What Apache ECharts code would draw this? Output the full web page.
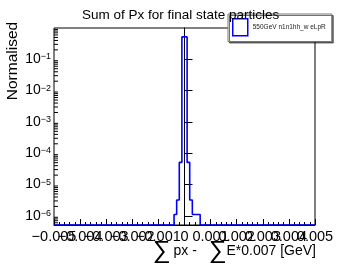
<!DOCTYPE html>
<html><head><meta charset="utf-8">
<script src="https://cdn.jsdelivr.net/npm/echarts@6/dist/echarts.min.js"></script>
<style>html,body{margin:0;padding:0;background:#fff}#c{width:338px;height:265px}</style>
</head><body><div id="c"></div>
<script>
const titleText = 'Sum of Px for final state particles';
const seriesName = '550GeV n1n1hh_w eLpR';
const yTitle = 'Normalised';
const xTitleParts = ['px -', 'E*0.007 [GeV]'];
const xMin = -0.005, xMax = 0.005, xInterval = 0.001;
const yMin = 5.1e-7, yMax = 1;
const xTickValues = [-0.005, -0.004, -0.003, -0.002, -0.001, 0, 0.001, 0.002, 0.003, 0.004, 0.005];
const xTickLabels = ['\u22120.005', '\u22120.004', '\u22120.003', '\u22120.002', '\u22120.001', '0',
  '0.001', '0.002', '0.003', '0.004', '0.005'];
// non-empty bins: lower edges (bin width 0.0001) and contents
const binWidth = 0.0001;
const binLow = [-0.0004, -0.0003, -0.0002, -0.0001, 0, 0.0001, 0.0002, 0.0003, 0.0004, 0.0005];
const binVal = [1.1e-6, 3.2e-6, 5.1e-5, 0.52, 0.52, 5.1e-5, 3.2e-6, 1.1e-6, 1.1e-6, 1.1e-6];

const FONT = "'Liberation Sans', Arial, Helvetica, sans-serif";

// histogram outline (empty bins drawn on the frame floor like ROOT)
const pts = [[xMin, yMin]];
binLow.forEach((x, i) => pts.push([x, binVal[i]]));
pts.push([binLow[binLow.length - 1] + binWidth, yMin]);
pts.push([xMax, yMin]);

// log minor ticks on y axis
const minorVals = [];
for (let n = -7; n < 0; n++) for (let k = 2; k <= 9; k++) {
  const v = k * Math.pow(10, n);
  if (v > yMin && v < yMax) minorVals.push([xMin, v]);
}

const chart = echarts.init(document.getElementById('c'), null, {renderer: 'canvas'});
chart.setOption({
  animation: false,
  backgroundColor: '#fff',
  title: {
    text: titleText, left: 77, top: 3,
    textStyle: {fontSize: 13.5, fontWeight: 'normal', fontFamily: FONT, color: '#000'}
  },
  legend: {
    left: 228, top: 14,
    padding: [4, 6, 5, 4],
    backgroundColor: '#fff', borderColor: '#777', borderWidth: 1,
    shadowColor: 'rgba(0,0,0,0.55)', shadowOffsetX: 1.5, shadowOffsetY: 1.5, shadowBlur: 0,
    itemWidth: 15, itemHeight: 17,
    textStyle: {fontSize: 6.5, fontFamily: FONT, color: '#222'},
    data: [{name: seriesName, icon: 'rect',
      itemStyle: {color: '#fff', borderColor: '#0000ff', borderWidth: 1.5}}]
  },
  grid: {left: 54, right: 23, top: 28, bottom: 40, show: true, borderColor: '#000', borderWidth: 1,
    containLabel: false, outerBoundsMode: 'none'},
  xAxis: {
    type: 'value', min: xMin, max: xMax, interval: xInterval,
    axisLine: {lineStyle: {color: '#000', width: 1}},
    axisTick: {inside: true, length: 6, lineStyle: {color: '#000'}},
    minorTick: {show: true, splitNumber: 5, length: 3, lineStyle: {color: '#000'}},
    splitLine: {show: false},
    axisLabel: {show: false}
  },
  yAxis: {
    type: 'log', logBase: 10, min: yMin, max: yMax,
    axisLine: {show: true, lineStyle: {color: '#000', width: 1}},
    axisTick: {inside: true, length: 8, lineStyle: {color: '#000'}},
    splitLine: {show: false},
    axisLabel: {
      margin: 3, showMinLabel: false, showMaxLabel: false, color: '#000', fontFamily: FONT,
      formatter: v => {
        const e = Math.round(Math.log10(v));
        return '{b|10}{s|' + (e < 0 ? '\u2212' : '') + Math.abs(e) + '}';
      },
      rich: {
        b: {fontSize: 14, lineHeight: 14, fontFamily: FONT, color: '#000', verticalAlign: 'bottom'},
        s: {fontSize: 9, lineHeight: 9, fontFamily: FONT, color: '#000', verticalAlign: 'top'}
      }
    }
  },
  graphic: [
    {type: 'text', x: 13, y: 61, rotation: Math.PI / 2,
      style: {text: yTitle, fontSize: 15.5, fontFamily: FONT, fill: '#000', align: 'center', verticalAlign: 'middle'}},
    {type: 'text', right: 22, top: 239,
      style: {
        text: '{g|\u2211}{p|' + xTitleParts[0] + '}  {g|\u2211}' + xTitleParts[1],
        fontSize: 14, fontFamily: FONT, fill: '#000',
        rich: {
          g: {fontSize: 25, fontFamily: FONT, fill: '#000'},
          p: {fontSize: 14, fontFamily: FONT, fill: '#000', padding: [0, 4, 0, 3]}
        }
      }}
  ],
  series: [
    {
      name: seriesName, type: 'line', step: 'end', data: pts,
      showSymbol: false, symbol: 'none',
      lineStyle: {color: '#0000ff', width: 1.6},
      itemStyle: {color: '#0000ff'}, z: 3
    },
    {
      name: 'minor', type: 'custom', data: minorVals, silent: true, z: 4,
      renderItem: (params, api) => {
        const p = api.coord([api.value(0), api.value(1)]);
        return {type: 'line', shape: {x1: p[0], y1: p[1], x2: p[0] + 4, y2: p[1]},
          style: {stroke: '#000', lineWidth: 1}};
      }
    },
    {
      name: 'xlabels', type: 'custom', silent: true, clip: false, z: 5,
      data: xTickValues.map((v, i) => [v, yMin, i]),
      renderItem: (params, api) => {
        const p = api.coord([api.value(0), api.value(1)]);
        return {type: 'text', x: p[0], y: p[1] + 4,
          style: {text: xTickLabels[api.value(2)], fontSize: 14.5, fontFamily: FONT, fill: '#000',
            align: 'center', verticalAlign: 'top'}};
      }
    }
  ]
});
</script></body></html>
